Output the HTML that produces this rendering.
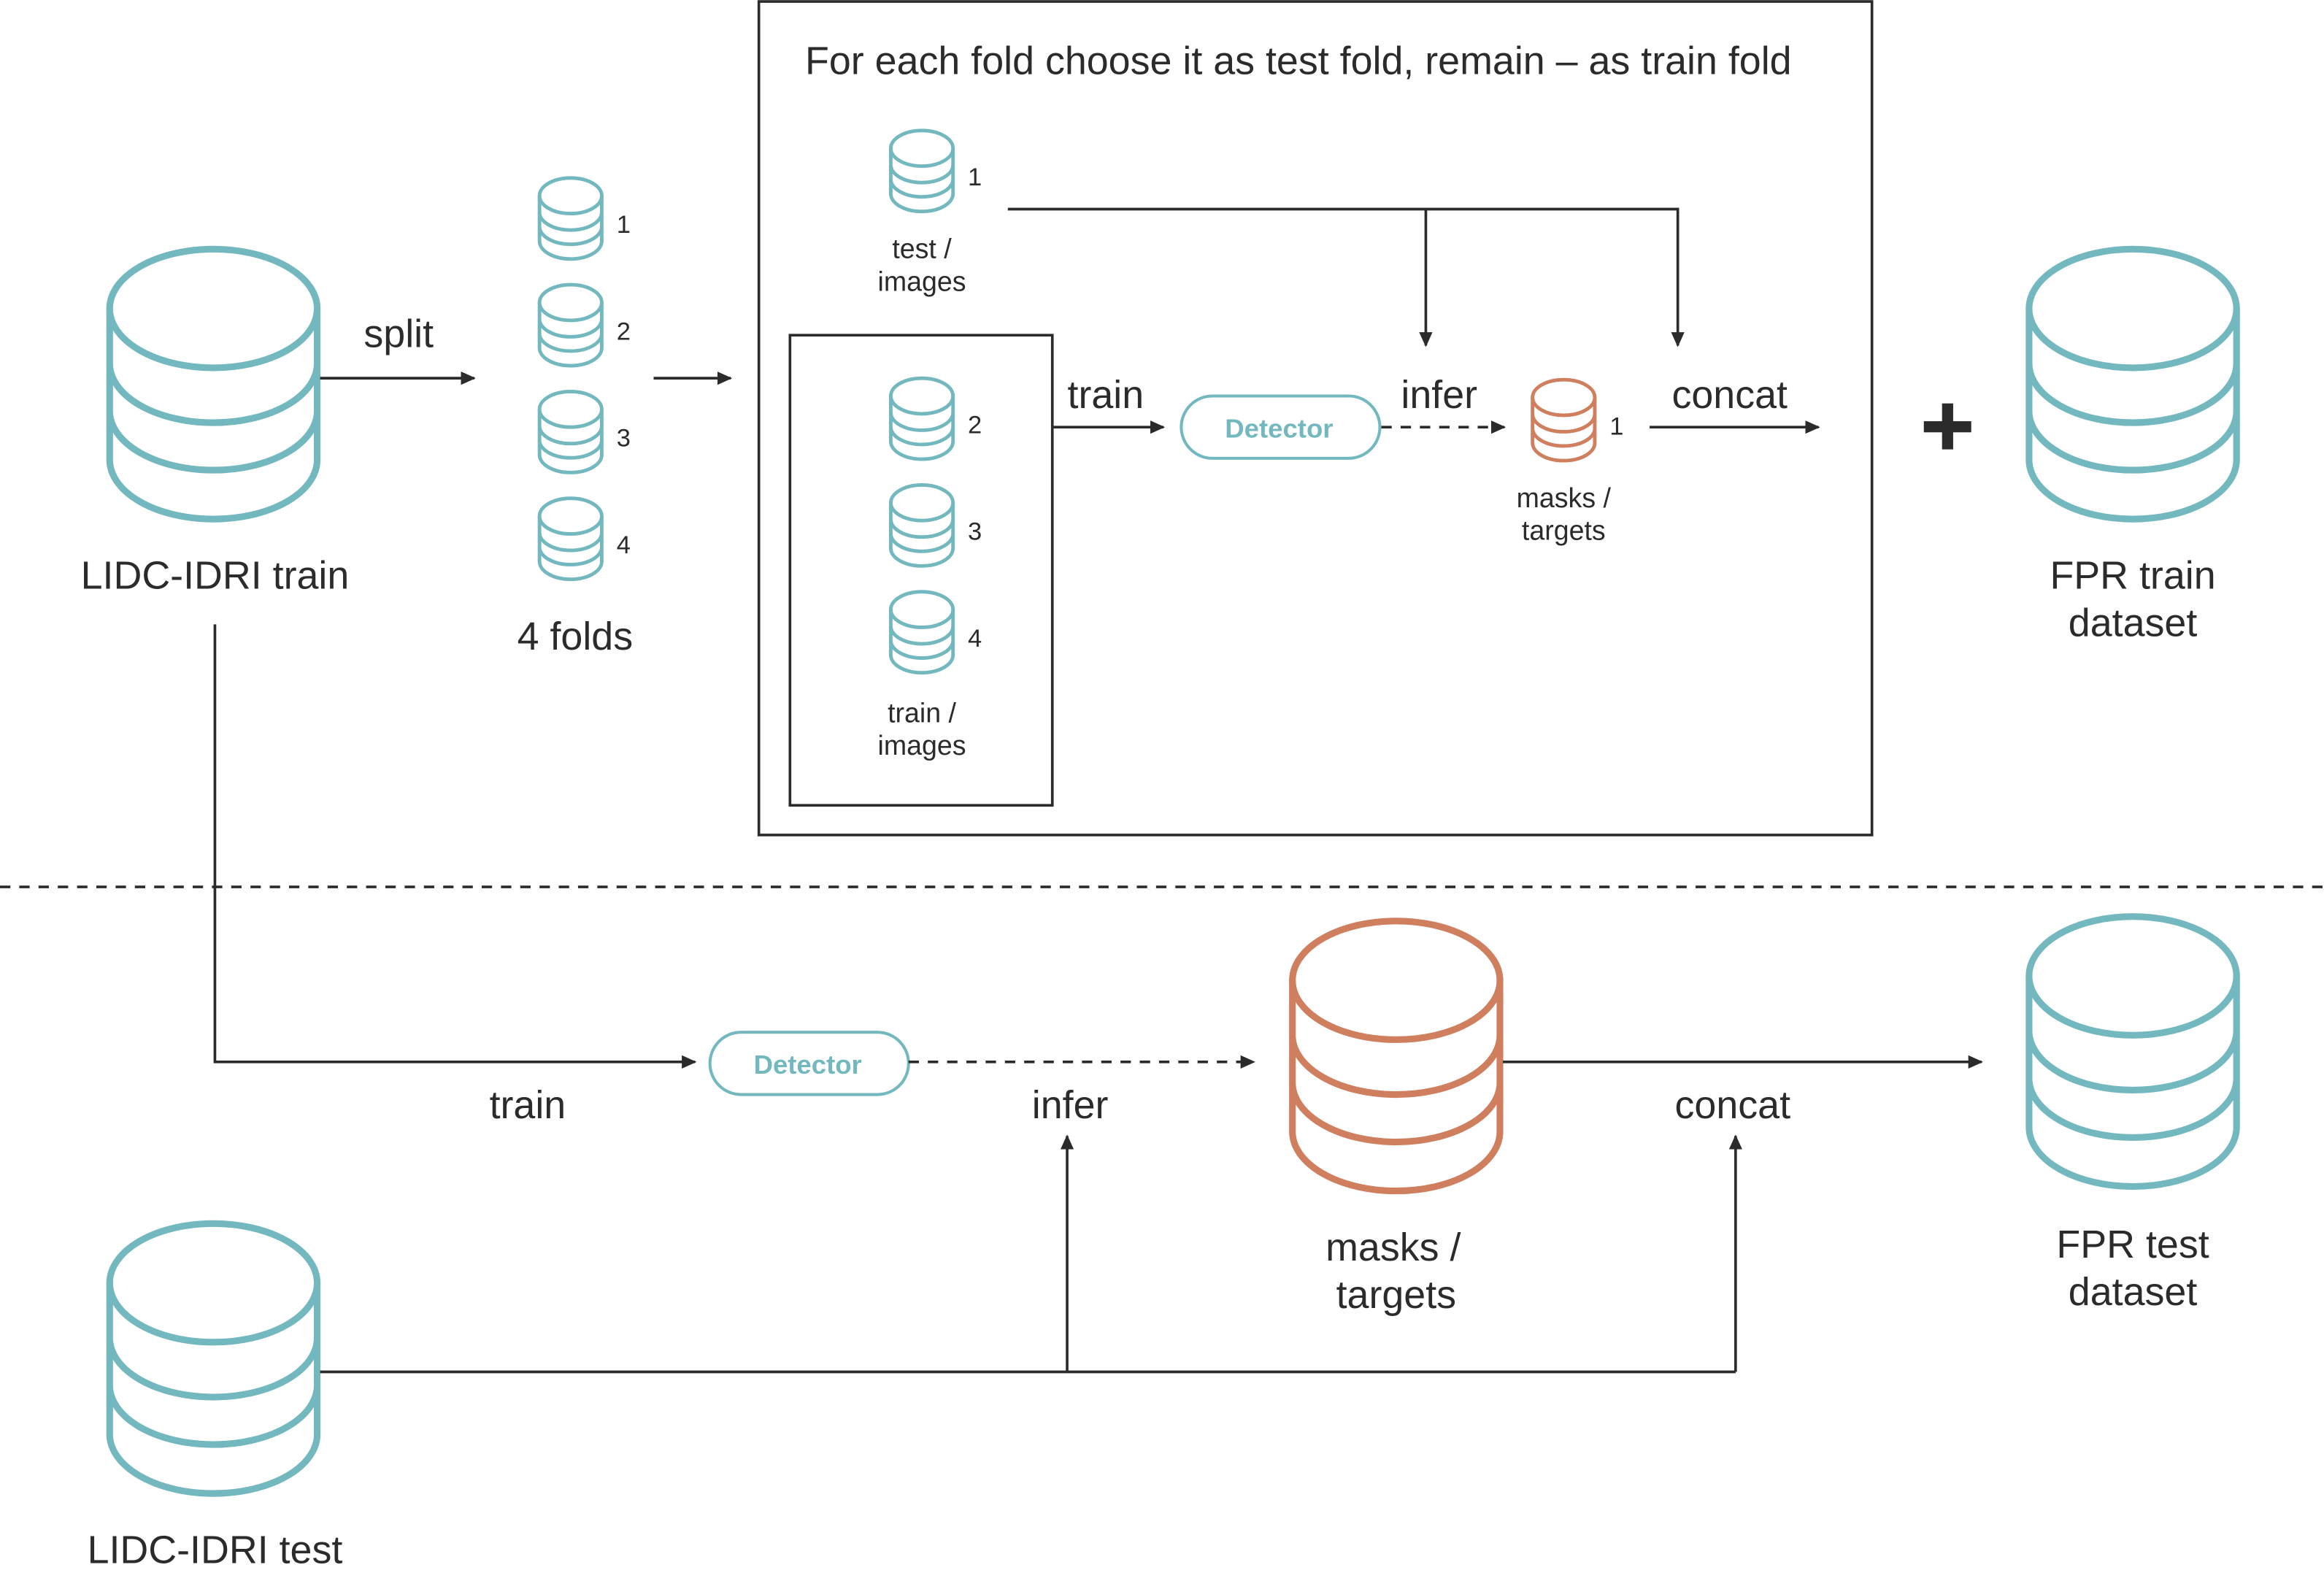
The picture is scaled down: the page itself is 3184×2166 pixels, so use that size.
<!DOCTYPE html>
<html><head><meta charset="utf-8"><style>
html,body{margin:0;padding:0;background:#fff}
svg{display:block}
text{font-family:"Liberation Sans",sans-serif;fill:#2b2b2b}
</style></head><body>
<svg width="3184" height="2166" viewBox="0 0 1568 1066" preserveAspectRatio="none" xmlns="http://www.w3.org/2000/svg">
<defs>
<g id="cyl" fill="none">
<ellipse cx="0" cy="40" rx="70" ry="40"/>
<path d="M-70,40 V142 A70 40 0 0 0 70,142 V40 M-70,77 A70 40 0 0 0 70,77 M-70,109 A70 40 0 0 0 70,109"/>
</g>
<marker id="ar" markerWidth="10" markerHeight="10" refX="9" refY="5" orient="auto" markerUnits="userSpaceOnUse"><path d="M0,0.5 L10,5 L0,9.5 z" fill="#2b2b2b"/></marker>
</defs>
<rect x="0" y="0" width="1568" height="1066" fill="#fff"/>

<use href="#cyl" transform="translate(144,168)" stroke="#73b8bf" stroke-width="4.5"/>
<use href="#cyl" transform="translate(1439,168)" stroke="#73b8bf" stroke-width="4.5"/>
<use href="#cyl" transform="translate(942,621)" stroke="#cf7e5e" stroke-width="4.5"/>
<use href="#cyl" transform="translate(1439,618)" stroke="#73b8bf" stroke-width="4.5"/>
<use href="#cyl" transform="translate(144,825)" stroke="#73b8bf" stroke-width="4.5"/>

<g stroke="#73b8bf" stroke-width="8">
<use href="#cyl" transform="translate(385,120) scale(0.3)"/>
<use href="#cyl" transform="translate(385,192) scale(0.3)"/>
<use href="#cyl" transform="translate(385,264) scale(0.3)"/>
<use href="#cyl" transform="translate(385,336) scale(0.3)"/>
<use href="#cyl" transform="translate(622,88) scale(0.3)"/>
<use href="#cyl" transform="translate(622,255) scale(0.3)"/>
<use href="#cyl" transform="translate(622,327) scale(0.3)"/>
<use href="#cyl" transform="translate(622,399) scale(0.3)"/>
</g>
<use href="#cyl" transform="translate(1055,256) scale(0.3)" stroke="#cf7e5e" stroke-width="8"/>

<rect x="512" y="1" width="751" height="562" fill="none" stroke="#2b2b2b" stroke-width="1.8"/>
<rect x="533" y="226" width="177" height="317" fill="none" stroke="#2b2b2b" stroke-width="1.8"/>

<rect x="797" y="267" width="134" height="42" rx="21" fill="#fff" stroke="#73b8bf" stroke-width="2"/>
<rect x="479" y="696" width="134" height="42" rx="21" fill="#fff" stroke="#73b8bf" stroke-width="2"/>
<text x="863" y="295" font-size="18" text-anchor="middle" font-weight="bold" style="fill:#73b8bf">Detector</text>
<text x="545" y="724" font-size="18" text-anchor="middle" font-weight="bold" style="fill:#73b8bf">Detector</text>

<rect x="1298" y="284" width="32" height="7.5" fill="#2b2b2b"/>
<rect x="1310.3" y="272" width="7.5" height="31" fill="#2b2b2b"/>

<g stroke="#2b2b2b" stroke-width="1.8" fill="none">
<line x1="216" y1="255" x2="320" y2="255" marker-end="url(#ar)"/>
<line x1="441" y1="255" x2="493" y2="255" marker-end="url(#ar)"/>
<line x1="710" y1="288" x2="785" y2="288" marker-end="url(#ar)"/>
<line x1="932" y1="288" x2="1015" y2="288" stroke-dasharray="7,6" marker-end="url(#ar)"/>
<line x1="1113" y1="288" x2="1227" y2="288" marker-end="url(#ar)"/>
<path d="M680,141 H1132 V233" marker-end="url(#ar)"/>
<line x1="962" y1="141" x2="962" y2="233" marker-end="url(#ar)"/>
<line x1="0" y1="598" x2="1568" y2="598" stroke-dasharray="7,6"/>
<path d="M145,421 V716 H469" marker-end="url(#ar)"/>
<line x1="613" y1="716" x2="846" y2="716" stroke-dasharray="7,6" marker-end="url(#ar)"/>
<line x1="1014" y1="716" x2="1337" y2="716" marker-end="url(#ar)"/>
<line x1="216" y1="925" x2="1171" y2="925"/>
<line x1="720" y1="925" x2="720" y2="766" marker-end="url(#ar)"/>
<line x1="1171" y1="925" x2="1171" y2="766" marker-end="url(#ar)"/>
</g>

<g font-size="26.5" text-anchor="middle">
<text x="876" y="50">For each fold choose it as test fold, remain – as train fold</text>
<text x="269" y="234">split</text>
<text x="145" y="397">LIDC-IDRI train</text>
<text x="388" y="438">4 folds</text>
<text x="1439" y="397">FPR train</text>
<text x="1439" y="429">dataset</text>
<text x="746" y="275">train</text>
<text x="971" y="275">infer</text>
<text x="1167" y="275">concat</text>
<text x="356" y="754">train</text>
<text x="722" y="754">infer</text>
<text x="1169" y="754">concat</text>
<text x="940" y="850">masks /</text>
<text x="942" y="882">targets</text>
<text x="1439" y="848">FPR test</text>
<text x="1439" y="880">dataset</text>
<text x="145" y="1054">LIDC-IDRI test</text>
</g>
<g font-size="18.5" text-anchor="middle">
<text x="622" y="174">test /</text>
<text x="622" y="196">images</text>
<text x="622" y="487">train /</text>
<text x="622" y="509">images</text>
<text x="1055" y="342">masks /</text>
<text x="1055" y="364">targets</text>
</g>
<g font-size="17">
<text x="416" y="157">1</text>
<text x="416" y="229">2</text>
<text x="416" y="301">3</text>
<text x="416" y="373">4</text>
<text x="653" y="125">1</text>
<text x="653" y="292">2</text>
<text x="653" y="364">3</text>
<text x="653" y="436">4</text>
<text x="1086" y="293">1</text>
</g>
</svg>
</body></html>
